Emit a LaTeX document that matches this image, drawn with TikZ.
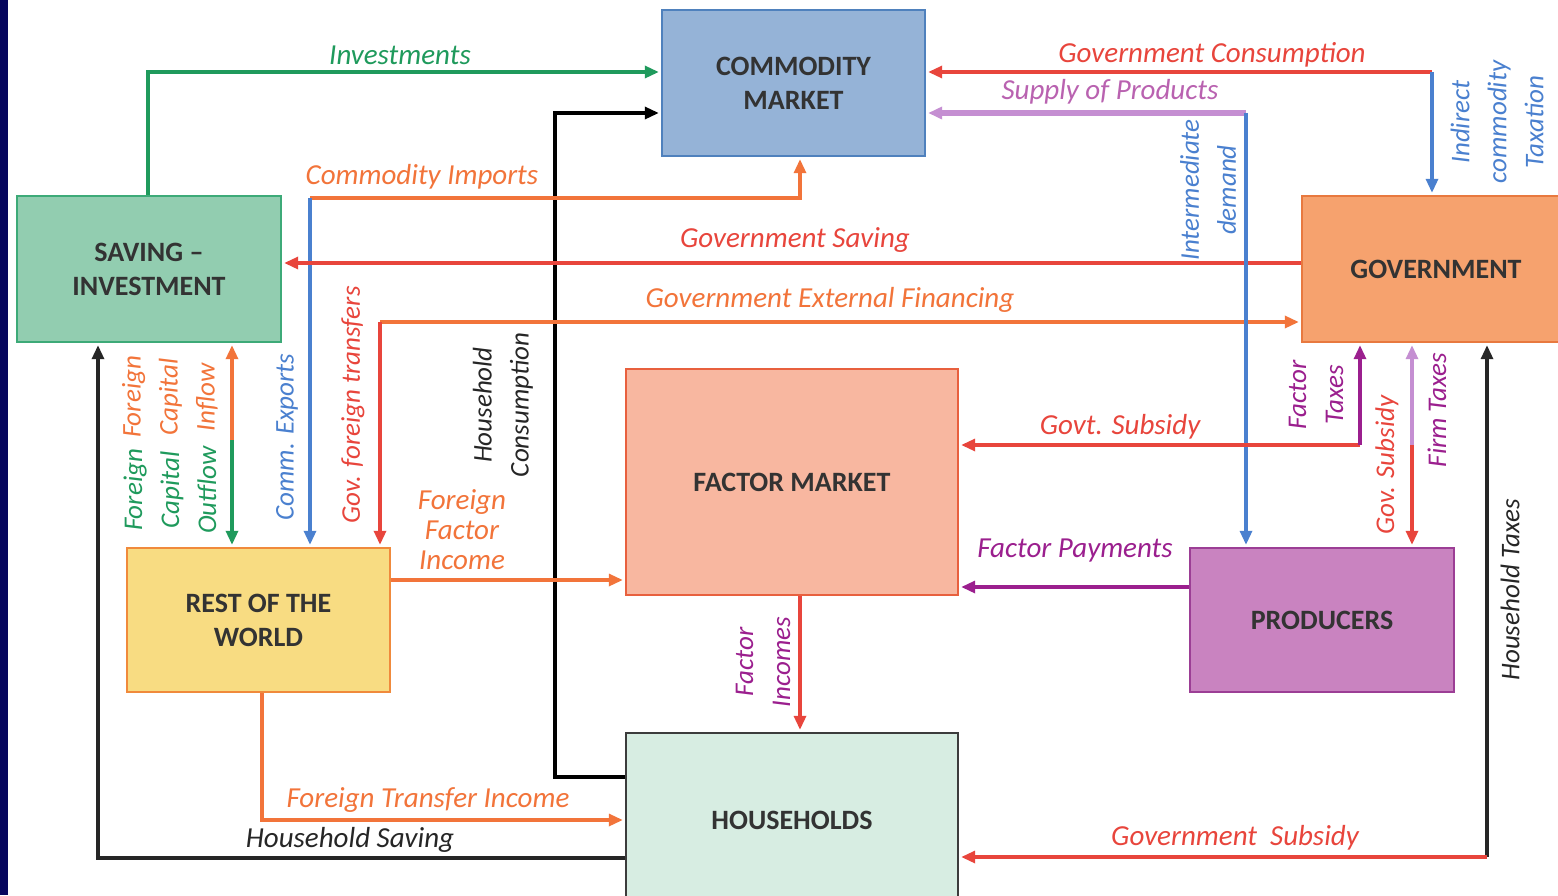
\documentclass[tikz,border=0pt]{standalone}
\usepackage{fontspec}
\setmainfont{Carlito}
\usetikzlibrary{arrows.meta}
\definecolor{navy}{HTML}{07075E}
\definecolor{cgreen}{HTML}{1F9A5C}
\definecolor{corange}{HTML}{F2743A}
\definecolor{cred}{HTML}{E8453C}
\definecolor{cblue}{HTML}{4A80CF}
\definecolor{cpurple}{HTML}{9B1F8E}
\definecolor{clilac}{HTML}{C58FD2}
\definecolor{commfill}{HTML}{95B3D7}
\definecolor{commline}{HTML}{4F81BD}
\definecolor{savfill}{HTML}{92CDB0}
\definecolor{savline}{HTML}{3DAA78}
\definecolor{govfill}{HTML}{F6A26E}
\definecolor{govline}{HTML}{E8793F}
\definecolor{facfill}{HTML}{F8B7A0}
\definecolor{facline}{HTML}{E8603E}
\definecolor{rowfill}{HTML}{F8DC82}
\definecolor{rowline}{HTML}{F08A3C}
\definecolor{prodfill}{HTML}{C983C0}
\definecolor{prodline}{HTML}{9C3E95}
\definecolor{hhfill}{HTML}{D7EDE2}
\definecolor{hhline}{HTML}{3C3C3C}

\begin{document}
\begin{tikzpicture}[x=0.5pt, y=-0.5pt,
	box/.style={draw, line width=1.2pt, text=black!80, align=center, inner sep=0pt, font=\fontsize{14}{17}\selectfont\bfseries},
	lab/.style={align=center, inner sep=0pt, font=\fontsize{14.5}{15}\selectfont\itshape},
	rlab/.style={lab, rotate=90, font=\fontsize{13.5}{18.5}\selectfont\itshape},
	flow/.style={line width=1.6pt, -{Triangle[length=7pt,width=6pt]}, shorten >=1pt}]
	\clip (0,0) rectangle (1558,895);
	\fill[white] (0,0) rectangle (1558,895);
	\fill[navy] (0,0) rectangle (8,895);
	\draw (793.5,83) node[box, fill=commfill, draw=commline, minimum width=131.5pt, minimum height=73pt](comm) {COMMODITY\\MARKET};
	\draw (149,269) node[box, fill=savfill, draw=savline, minimum width=132pt, minimum height=73pt](sav) {SAVING –\\INVESTMENT};
	\draw (1436,269) node[box, fill=govfill, draw=govline, minimum width=134pt, minimum height=73pt](gov) {GOVERNMENT};
	\draw (792,482) node[box, fill=facfill, draw=facline, minimum width=166pt, minimum height=113pt](fac) {FACTOR MARKET};
	\draw (258.5,620) node[box, fill=rowfill, draw=rowline, minimum width=131.5pt, minimum height=72pt](row) {REST OF THE\\WORLD};
	\draw (1322,620) node[box, fill=prodfill, draw=prodline, minimum width=132pt, minimum height=72pt](prod) {PRODUCERS};
	\draw (792,820) node[box, fill=hhfill, draw=hhline, minimum width=166pt, minimum height=87pt](hh) {HOUSEHOLDS};
	\coordinate (inv) at (148,72);
	\coordinate (hc1) at (555,777);
	\coordinate (hc2) at (555,113);
	\coordinate (ci1) at (310,198);
	\coordinate (ci2) at (800,198);
	\coordinate (gs) at (0,263);
	\coordinate (ge) at (380,322);
	\coordinate (gc) at (1432,72);
	\coordinate (sp) at (1246,113);
	\coordinate (gsub) at (1360,445);
	\coordinate (ft) at (1412,445);
	\coordinate (ht) at (1487,857);
	\coordinate (fp) at (0,587);
	\coordinate (fi) at (800,0);
	\coordinate (ff) at (0,580);
	\coordinate (tr) at (262,820);
	\coordinate (hs) at (98,858);
	\coordinate (fc) at (232,440);
	\draw[flow, cgreen] (sav.north -| inv) -- (inv) -- (comm.west |- inv);
	\draw[flow, black] (hh.west |- hc1) -- (hc1) -- (hc2) -- (comm.west |- hc2);
	\draw[flow, corange] (ci1) -- (ci2) -- (comm.south -| ci2);
	\draw[flow, cblue] (ci1) -- (row.north -| ci1);
	\draw[flow, cred] (gov.west |- gs) -- (sav.east |- gs);
	\draw[flow, corange] (ge) -- (gov.west |- ge);
	\draw[flow, cred] (ge) -- (row.north -| ge);
	\draw[flow, cred] (gc) -- (comm.east |- gc);
	\draw[flow, cblue] (gc) -- (gov.north -| gc);
	\draw[flow, clilac, line width=2.6pt] (sp) -- (comm.east |- sp);
	\draw[flow, cblue] (sp) -- (prod.north -| sp);
	\draw[flow, cred] (gsub) -- (fac.east |- gsub);
	\draw[flow, cpurple] (gsub) -- (gov.south -| gsub);
	\draw[flow, clilac] (ft) -- (gov.south -| ft);
	\draw[flow, cred] (ft) -- (prod.north -| ft);
	\draw[flow, black!85] (ht) -- (gov.south -| ht);
	\draw[flow, cred] (ht) -- (hh.east |- ht);
	\draw[flow, cpurple] (prod.west |- fp) -- (fac.east |- fp);
	\draw[flow, cred] (fac.south -| fi) -- (hh.north -| fi);
	\draw[flow, corange] (row.east |- ff) -- (fac.west |- ff);
	\draw[flow, corange] (row.south -| tr) -- (tr) -- (hh.west |- tr);
	\draw[flow, black!85] (hh.west |- hs) -- (hs) -- (sav.south -| hs);
	\draw[flow, corange] (fc) -- (sav.south -| fc);
	\draw[flow, cgreen] (fc) -- (row.north -| fc);
	\node[lab, text=cgreen] (linv) at (400,55) {Investments};
	\node[lab, text=corange] (lci) at (422,177) {Commodity Imports};
	\node[lab, text=cred] (lgs) at (795,240) {Government Saving};
	\node[lab, text=corange] (lge) at (830,300) {Government External Financing};
	\node[lab, text=cred] (lgc) at (1212,55) {Government Consumption};
	\node[lab, text=cpurple!70] (lsp) at (1110,92) {Supply of Products};
	\node[lab, text=cred] (lgsub) at (1120,427) {Govt. Subsidy};
	\node[lab, text=cpurple] (lfp) at (1075,551) {Factor Payments};
	\node[lab, text=corange] (lff) at (462,530) {Foreign\\Factor\\Income};
	\node[lab, text=corange] (ltr) at (428,800) {Foreign Transfer Income};
	\node[lab, text=black!85] (lhs) at (350,840) {Household Saving};
	\node[lab, text=cred] (lhsub) at (1235,838) {Government~~Subsidy};
	\node[rlab, text=black!85] (lhc) at (503,405) {Household\\Consumption};
	\node[rlab, text=cblue] (lce) at (287,437) {Comm. Exports};
	\node[rlab, text=cred] (lgt) at (353,405) {Gov. foreign transfers};
	\node[rlab, text=corange] (lfci) at (170,397) {Foreign\\Capital\\Inflow};
	\node[rlab, text=cgreen] (lfco) at (170,490) {Foreign\\Capital\\Outflow};
	\node[rlab, text=cblue] (lid) at (1208,190) {Intermediate\\demand};
	\node[rlab, text=cblue] (lit) at (1497,122) {Indirect\\commodity\\Taxation};
	\node[rlab, text=cpurple] (lft) at (1316,395) {Factor\\Taxes};
	\node[rlab, text=cred] (lgsu) at (1387,465) {Gov. Subsidy};
	\node[rlab, text=cpurple] (lfirm) at (1437,410) {Firm Taxes};
	\node[rlab, text=black!85] (lht) at (1510,590) {Household Taxes};
	\node[rlab, text=cpurple] (lfi) at (763,662) {Factor\\Incomes};
\end{tikzpicture}
\end{document}
